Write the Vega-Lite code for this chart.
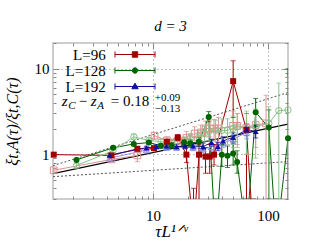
{
  "$schema": "https://vega.github.io/schema/vega-lite/v6.json",
  "autosize": "none",
  "width": 235,
  "height": 156,
  "padding": {"left": 53, "top": 43, "right": 27, "bottom": 47},
  "background": "white",
  "config": {"view": {"stroke": "#bdbdbd", "strokeWidth": 1.5}},
  "title": {"text": "d = 3", "font": "Liberation Serif", "fontSize": 15, "fontStyle": "italic", "fontWeight": "normal", "color": "#000", "anchor": "middle", "baseline": "alphabetic", "offset": -3},
  "datasets": {
    "pts": [
      {"s": "L=96", "x": 1.37, "y": 0.99, "lo": 0.97, "hi": 1.01},
      {"s": "L=96", "x": 4.35, "y": 0.97, "lo": 0.93, "hi": 1.01},
      {"s": "L=96", "x": 7.3, "y": 1.16, "lo": 1.1, "hi": 1.22},
      {"s": "L=96", "x": 10.2, "y": 1.18, "lo": 1.13, "hi": 1.23},
      {"s": "L=96", "x": 13.2, "y": 1.4, "lo": 1.3, "hi": 1.5},
      {"s": "L=96", "x": 16.4, "y": 1.57, "lo": 1.45, "hi": 1.7},
      {"s": "L=96", "x": 19.5, "y": 0.99, "lo": 0.8, "hi": 1.25},
      {"s": "L=96", "x": 22.5, "y": 0.12, "lo": 0.05, "hi": 0.4},
      {"s": "L=96", "x": 25.1, "y": 0.99, "lo": 0.2, "hi": 1.3},
      {"s": "L=96", "x": 28.6, "y": 0.94, "lo": 0.6, "hi": 1.2},
      {"s": "L=96", "x": 31.1, "y": 0.94, "lo": 0.6, "hi": 1.3},
      {"s": "L=96", "x": 33.9, "y": 0.99, "lo": 0.75, "hi": 1.3},
      {"s": "L=96", "x": 49.7, "y": 7.17, "lo": 2.7, "hi": 12.4},
      {"s": "L=96", "x": 64.9, "y": 1.93, "lo": 0.2, "hi": 3.0},
      {"s": "L=96", "x": 75, "y": 0.1, "lo": 0.05, "hi": 0.3},
      {"s": "o96", "x": 1.37, "y": 0.65, "lo": 0.62, "hi": 0.68},
      {"s": "o96", "x": 4.35, "y": 0.87, "lo": 0.82, "hi": 0.92},
      {"s": "o96", "x": 7.3, "y": 0.97, "lo": 0.82, "hi": 1.07},
      {"s": "o96", "x": 10.3, "y": 1.65, "lo": 1.5, "hi": 1.8},
      {"s": "o96", "x": 13.2, "y": 1.45, "lo": 1.3, "hi": 1.6},
      {"s": "o96", "x": 16.4, "y": 1.45, "lo": 1.3, "hi": 1.62},
      {"s": "o96", "x": 19.5, "y": 1.55, "lo": 1.3, "hi": 1.85},
      {"s": "o96", "x": 23, "y": 1.75, "lo": 1.45, "hi": 2.1},
      {"s": "o96", "x": 26, "y": 1.8, "lo": 1.45, "hi": 2.2},
      {"s": "o96", "x": 28.6, "y": 2.0, "lo": 1.6, "hi": 2.45},
      {"s": "o96", "x": 31.1, "y": 2.0, "lo": 1.6, "hi": 2.5},
      {"s": "o96", "x": 33.9, "y": 2.0, "lo": 1.5, "hi": 2.55},
      {"s": "o96", "x": 37, "y": 2.0, "lo": 1.4, "hi": 2.7},
      {"s": "o96", "x": 49.7, "y": 2.15, "lo": 1.2, "hi": 3.2},
      {"s": "o96", "x": 54, "y": 2.15, "lo": 1.3, "hi": 3.0},
      {"s": "o96", "x": 64.9, "y": 2.05, "lo": 1.0, "hi": 3.0},
      {"s": "o96", "x": 78, "y": 2.2, "lo": 1.2, "hi": 3.0},
      {"s": "o96", "x": 96, "y": 2.3, "lo": 0.1, "hi": 4.9},
      {"s": "L=128", "x": 2.16, "y": 0.86, "lo": 0.82, "hi": 0.9},
      {"s": "L=128", "x": 4.49, "y": 1.19, "lo": 1.15, "hi": 1.23},
      {"s": "L=128", "x": 6.8, "y": 1.32, "lo": 1.26, "hi": 1.38},
      {"s": "L=128", "x": 9.2, "y": 1.37, "lo": 1.3, "hi": 1.44},
      {"s": "L=128", "x": 11.7, "y": 1.26, "lo": 1.18, "hi": 1.34},
      {"s": "L=128", "x": 14.5, "y": 1.27, "lo": 1.18, "hi": 1.37},
      {"s": "L=128", "x": 18.6, "y": 1.37, "lo": 1.26, "hi": 1.48},
      {"s": "L=128", "x": 21.1, "y": 1.35, "lo": 1.22, "hi": 1.48},
      {"s": "L=128", "x": 25, "y": 1.4, "lo": 1.25, "hi": 1.56},
      {"s": "L=128", "x": 30.5, "y": 2.72, "lo": 2.4, "hi": 3.16},
      {"s": "L=128", "x": 35, "y": 0.1, "lo": 0.05, "hi": 0.3},
      {"s": "L=128", "x": 39.6, "y": 0.99, "lo": 0.72, "hi": 1.3},
      {"s": "L=128", "x": 44.4, "y": 0.96, "lo": 0.7, "hi": 1.25},
      {"s": "L=128", "x": 49.7, "y": 1.02, "lo": 0.75, "hi": 1.35},
      {"s": "L=128", "x": 53.8, "y": 0.81, "lo": 0.6, "hi": 1.1},
      {"s": "L=128", "x": 64.9, "y": 0.12, "lo": 0.05, "hi": 0.3},
      {"s": "L=128", "x": 78, "y": 3.1, "lo": 2.1, "hi": 4.5},
      {"s": "L=128", "x": 101.5, "y": 2.05, "lo": 0.3, "hi": 3.3},
      {"s": "L=128", "x": 118, "y": 0.1, "lo": 0.05, "hi": 0.3},
      {"s": "L=128", "x": 149, "y": 1.54, "lo": 0.1, "hi": 10},
      {"s": "o128", "x": 2.16, "y": 0.74, "lo": 0.7, "hi": 0.78},
      {"s": "o128", "x": 4.49, "y": 1.1, "lo": 1.05, "hi": 1.15},
      {"s": "o128", "x": 6.8, "y": 1.6, "lo": 1.5, "hi": 1.72},
      {"s": "o128", "x": 9.2, "y": 1.45, "lo": 1.36, "hi": 1.55},
      {"s": "o128", "x": 11.7, "y": 1.4, "lo": 1.3, "hi": 1.5},
      {"s": "o128", "x": 14.5, "y": 1.38, "lo": 1.27, "hi": 1.5},
      {"s": "o128", "x": 18.6, "y": 1.45, "lo": 1.3, "hi": 1.6},
      {"s": "o128", "x": 21.1, "y": 1.55, "lo": 1.35, "hi": 1.75},
      {"s": "o128", "x": 25, "y": 1.6, "lo": 1.35, "hi": 1.9},
      {"s": "o128", "x": 28, "y": 1.75, "lo": 1.4, "hi": 2.1},
      {"s": "o128", "x": 30.5, "y": 1.85, "lo": 1.45, "hi": 2.3},
      {"s": "o128", "x": 35, "y": 1.9, "lo": 1.4, "hi": 2.5},
      {"s": "o128", "x": 39.6, "y": 1.9, "lo": 1.3, "hi": 2.6},
      {"s": "o128", "x": 44.4, "y": 1.9, "lo": 1.3, "hi": 2.6},
      {"s": "o128", "x": 49.7, "y": 2.0, "lo": 1.3, "hi": 2.8},
      {"s": "o128", "x": 54, "y": 2.1, "lo": 1.2, "hi": 3.0},
      {"s": "o128", "x": 64.9, "y": 2.0, "lo": 1.0, "hi": 3.2},
      {"s": "o128", "x": 78, "y": 2.1, "lo": 0.9, "hi": 3.4},
      {"s": "o128", "x": 101.5, "y": 2.3, "lo": 0.1, "hi": 3.6},
      {"s": "o128", "x": 124, "y": 3.24, "lo": 0.1, "hi": 6.8},
      {"s": "o128", "x": 149, "y": 3.3, "lo": 0.1, "hi": 8},
      {"s": "L=192", "x": 4.2, "y": 0.98, "lo": 0.94, "hi": 1.02},
      {"s": "L=192", "x": 8.76, "y": 1.19, "lo": 1.14, "hi": 1.24},
      {"s": "L=192", "x": 10.7, "y": 1.23, "lo": 1.17, "hi": 1.29},
      {"s": "L=192", "x": 13.1, "y": 1.25, "lo": 1.18, "hi": 1.32},
      {"s": "L=192", "x": 16, "y": 1.23, "lo": 1.15, "hi": 1.31},
      {"s": "L=192", "x": 19, "y": 1.25, "lo": 1.16, "hi": 1.34},
      {"s": "L=192", "x": 22.3, "y": 1.25, "lo": 1.15, "hi": 1.35},
      {"s": "L=192", "x": 27.2, "y": 1.23, "lo": 1.12, "hi": 1.35},
      {"s": "L=192", "x": 32.2, "y": 1.37, "lo": 1.24, "hi": 1.5},
      {"s": "L=192", "x": 36.7, "y": 1.23, "lo": 1.1, "hi": 1.37},
      {"s": "L=192", "x": 40.6, "y": 1.43, "lo": 1.28, "hi": 1.6},
      {"s": "L=192", "x": 49.7, "y": 1.58, "lo": 1.4, "hi": 1.78},
      {"s": "L=192", "x": 64.9, "y": 1.93, "lo": 1.65, "hi": 2.25},
      {"s": "L=192", "x": 78, "y": 1.85, "lo": 1.55, "hi": 2.2},
      {"s": "o192", "x": 4.2, "y": 0.9, "lo": 0.86, "hi": 0.94},
      {"s": "o192", "x": 8.76, "y": 1.12, "lo": 1.07, "hi": 1.17},
      {"s": "o192", "x": 13.1, "y": 1.2, "lo": 1.13, "hi": 1.27},
      {"s": "o192", "x": 16, "y": 1.2, "lo": 1.12, "hi": 1.28},
      {"s": "o192", "x": 22.3, "y": 1.2, "lo": 1.1, "hi": 1.3},
      {"s": "o192", "x": 27.2, "y": 1.15, "lo": 1.04, "hi": 1.27},
      {"s": "o192", "x": 32.2, "y": 1.22, "lo": 1.1, "hi": 1.35},
      {"s": "o192", "x": 40.6, "y": 1.35, "lo": 1.2, "hi": 1.52},
      {"s": "o192", "x": 49.7, "y": 1.5, "lo": 1.32, "hi": 1.7},
      {"s": "o192", "x": 64.9, "y": 1.8, "lo": 1.52, "hi": 2.1}
    ],
    "fits": [
      {"f": "c", "x": 1.35, "y": 0.593},
      {"f": "c", "x": 149, "y": 2.25},
      {"f": "u", "x": 1.35, "y": 0.736},
      {"f": "u", "x": 149, "y": 5.27},
      {"f": "l", "x": 1.35, "y": 0.547},
      {"f": "l", "x": 149, "y": 0.82}
    ]
  },
  "resolve": {"axis": {"x": "independent", "y": "independent"}},
  "layer": [
    {
      "data": {"name": "fits"},
      "transform": [{"filter": "datum.f != 'c'"}],
      "mark": {"type": "line", "color": "#555", "strokeWidth": 1, "strokeDash": [2, 2], "clip": true},
      "encoding": {
        "x": {"field": "x", "type": "quantitative",
          "scale": {"type": "log", "domain": [1.35, 149], "nice": false},
          "axis": {"orient": "bottom", "values": [2,3,4,5,6,7,8,9,10,20,30,40,50,60,70,80,90,100],
            "format": "d", "labelExpr": "(datum.value==10||datum.value==100)?datum.label:''",
            "labelFont": "Liberation Serif", "labelFontSize": 15, "labelColor": "#000", "labelPadding": 15,
            "tickColor": "#888", "tickSize": {"condition": {"test": "datum.value==10||datum.value==100", "value": -6}, "value": -3},
            "domain": false, "grid": true, "gridDash": [1, 3], "gridColor": "#888",
            "gridOpacity": {"condition": {"test": "datum.value==10||datum.value==100", "value": 1}, "value": 0},
            "title": "τL¹ᐟᵛ", "titleFont": "Liberation Serif", "titleFontSize": 17, "titleFontStyle": "italic", "titleFontWeight": "normal", "titleColor": "#000",
            "titleX": 118, "titleY": 37, "titleBaseline": "alphabetic", "titleAnchor": "middle"}},
        "y": {"field": "y", "type": "quantitative",
          "scale": {"type": "log", "domain": [0.3, 20], "nice": false},
          "axis": {"orient": "left", "values": [0.3,0.4,0.5,0.6,0.7,0.8,0.9,1,2,3,4,5,6,7,8,9,10,20],
            "format": "d", "labelExpr": "(datum.value==1||datum.value==10)?datum.label:''",
            "labelFont": "Liberation Serif", "labelFontSize": 15, "labelColor": "#000", "labelPadding": 10,
            "tickColor": "#888", "tickSize": {"condition": {"test": "datum.value==1||datum.value==10", "value": -6}, "value": -3},
            "domain": false, "grid": true, "gridDash": [1, 3], "gridColor": "#888",
            "gridOpacity": {"condition": {"test": "datum.value==1||datum.value==10", "value": 1}, "value": 0},
            "title": "ξt,A(τ)/ξt,C(τ)", "titleFont": "Liberation Serif", "titleFontSize": 16, "titleFontStyle": "italic", "titleFontWeight": "normal", "titleColor": "#000",
            "titleX": -41, "titleY": 78, "titleAngle": -90, "titleBaseline": "middle", "titleAlign": "center"}},
        "detail": {"field": "f"}
      }
    },
    {
      "data": {"name": "fits"},
      "transform": [{"filter": "datum.f == 'c'"}],
      "mark": {"type": "line", "color": "#000", "strokeWidth": 1.3, "clip": true},
      "encoding": {
        "x": {"field": "x", "type": "quantitative",
          "axis": {"orient": "top", "values": [2,3,4,5,6,7,8,9,10,20,30,40,50,60,70,80,90,100], "labels": false, "domain": false, "grid": false, "title": null,
            "tickColor": "#888", "tickSize": {"condition": {"test": "datum.value==10||datum.value==100", "value": -6}, "value": -3}}},
        "y": {"field": "y", "type": "quantitative",
          "axis": {"orient": "right", "values": [0.3,0.4,0.5,0.6,0.7,0.8,0.9,1,2,3,4,5,6,7,8,9,10,20], "labels": false, "domain": false, "grid": false, "title": null,
            "tickColor": "#888", "tickSize": {"condition": {"test": "datum.value==1||datum.value==10", "value": -6}, "value": -3}}}
      }
    },
    {
      "data": {"name": "pts"},
      "mark": {"type": "line", "strokeWidth": 1, "clip": true},
      "encoding": {
        "x": {"field": "x", "type": "quantitative", "axis": null},
        "y": {"field": "y", "type": "quantitative", "axis": null},
        "order": {"field": "x", "type": "quantitative"},
        "color": {"field": "s", "type": "nominal",
          "scale": {"domain": ["o96", "o128", "o192", "L=96", "L=128", "L=192"], "range": ["#dc9090", "#88c488", "#9090e6", "#a00000", "#006400", "#1010a0"]},
          "legend": {"orient": "none", "legendX": 4, "legendY": 3.5, "values": ["L=96", "L=128", "L=192"], "title": null,
            "symbolSize": 225, "rowPadding": 0, "padding": 0, "symbolOffset": 70,
            "labelFont": "Liberation Serif", "labelFontSize": 15, "labelColor": "#000", "labelAlign": "right", "labelOffset": -37.3, "labelBaseline": "middle",
            "symbolType": {"expr": "datum.value==='L=96' ? 'M-2.667,0H2.667M-2.667,-0.4V0.4M2.667,-0.4V0.4M-0.36,-0.36H0.36V0.36H-0.36Z' : datum.value==='L=128' ? 'M-2.667,0H2.667M-2.667,-0.4V0.4M2.667,-0.4V0.4M0.36,0A0.36,0.36 0 1,1 -0.36,0A0.36,0.36 0 1,1 0.36,0Z' : 'M-2.667,0H2.667M-2.667,-0.4V0.4M2.667,-0.4V0.4M0,-0.45L0.42,0.3H-0.42Z'"},
            "symbolStrokeColor": {"expr": "scale('color', datum.value)"},
            "symbolFillColor": {"expr": "scale('color', datum.value)"},
            "symbolStrokeWidth": 1,
            "symbolOpacity": 1}}
      }
    },
    {
      "data": {"name": "pts"},
      "mark": {"type": "rule", "strokeWidth": 1, "clip": true},
      "encoding": {
        "x": {"field": "x", "type": "quantitative", "axis": null},
        "y": {"field": "lo", "type": "quantitative", "axis": null},
        "y2": {"field": "hi"},
        "color": {"field": "s", "type": "nominal", "legend": null}
      }
    },
    {
      "data": {"name": "pts"},
      "mark": {"type": "tick", "orient": "horizontal", "size": 5, "thickness": 1, "clip": true},
      "encoding": {
        "x": {"field": "x", "type": "quantitative", "axis": null},
        "y": {"field": "lo", "type": "quantitative", "axis": null},
        "color": {"field": "s", "type": "nominal", "legend": null}
      }
    },
    {
      "data": {"name": "pts"},
      "mark": {"type": "tick", "orient": "horizontal", "size": 5, "thickness": 1, "clip": true},
      "encoding": {
        "x": {"field": "x", "type": "quantitative", "axis": null},
        "y": {"field": "hi", "type": "quantitative", "axis": null},
        "color": {"field": "s", "type": "nominal", "legend": null}
      }
    },
    {
      "data": {"name": "pts"},
      "transform": [{"filter": "datum.s=='o96' && datum.y >= 0.3"}],
      "mark": {"type": "point", "shape": "square", "filled": false, "strokeWidth": 1, "size": 45, "opacity": 1},
      "encoding": {
        "x": {"field": "x", "type": "quantitative", "axis": null},
        "y": {"field": "y", "type": "quantitative", "axis": null},
        "color": {"field": "s", "type": "nominal", "legend": null}
      }
    },
    {
      "data": {"name": "pts"},
      "transform": [{"filter": "datum.s=='o128' && datum.y >= 0.3"}],
      "mark": {"type": "point", "shape": "circle", "filled": false, "strokeWidth": 1, "size": 40, "opacity": 1},
      "encoding": {
        "x": {"field": "x", "type": "quantitative", "axis": null},
        "y": {"field": "y", "type": "quantitative", "axis": null},
        "color": {"field": "s", "type": "nominal", "legend": null}
      }
    },
    {
      "data": {"name": "pts"},
      "transform": [{"filter": "datum.s=='o192' && datum.y >= 0.3"}],
      "mark": {"type": "point", "shape": "triangle-up", "filled": false, "strokeWidth": 1, "size": 40, "opacity": 1},
      "encoding": {
        "x": {"field": "x", "type": "quantitative", "axis": null},
        "y": {"field": "y", "type": "quantitative", "axis": null},
        "color": {"field": "s", "type": "nominal", "legend": null}
      }
    },
    {
      "data": {"name": "pts"},
      "transform": [{"filter": "datum.s=='L=96' && datum.y >= 0.3"}],
      "mark": {"type": "point", "shape": "square", "filled": true, "size": 36, "opacity": 1},
      "encoding": {
        "x": {"field": "x", "type": "quantitative", "axis": null},
        "y": {"field": "y", "type": "quantitative", "axis": null},
        "color": {"field": "s", "type": "nominal", "legend": null}
      }
    },
    {
      "data": {"name": "pts"},
      "transform": [{"filter": "datum.s=='L=128' && datum.y >= 0.3"}],
      "mark": {"type": "point", "shape": "circle", "filled": true, "size": 36, "opacity": 1},
      "encoding": {
        "x": {"field": "x", "type": "quantitative", "axis": null},
        "y": {"field": "y", "type": "quantitative", "axis": null},
        "color": {"field": "s", "type": "nominal", "legend": null}
      }
    },
    {
      "data": {"name": "pts"},
      "transform": [{"filter": "datum.s=='L=192' && datum.y >= 0.3"}],
      "mark": {"type": "point", "shape": "triangle-up", "filled": true, "size": 36, "opacity": 1},
      "encoding": {
        "x": {"field": "x", "type": "quantitative", "axis": null},
        "y": {"field": "y", "type": "quantitative", "axis": null},
        "color": {"field": "s", "type": "nominal", "legend": null}
      }
    },
    {
      "data": {"values": [{"t": "z"}]},
      "mark": {"type": "text", "font": "Liberation Serif", "fontSize": 15, "fontStyle": "italic", "align": "left", "baseline": "alphabetic", "color": "#000"},
      "encoding": {"x": {"datum": 1.607, "type": "quantitative", "axis": null}, "y": {"datum": 3.68, "type": "quantitative", "axis": null}, "text": {"field": "t"}}
    },
    {
      "data": {"values": [{"t": "C"}]},
      "mark": {"type": "text", "font": "Liberation Serif", "fontSize": 11, "fontStyle": "italic", "align": "left", "baseline": "alphabetic", "color": "#000", "dx": 6.5, "dy": 3},
      "encoding": {"x": {"datum": 1.607, "type": "quantitative", "axis": null}, "y": {"datum": 3.68, "type": "quantitative", "axis": null}, "text": {"field": "t"}}
    },
    {
      "data": {"values": [{"t": "−"}]},
      "mark": {"type": "text", "font": "Liberation Serif", "fontSize": 15, "align": "left", "baseline": "alphabetic", "color": "#000", "dx": 17},
      "encoding": {"x": {"datum": 1.607, "type": "quantitative", "axis": null}, "y": {"datum": 3.68, "type": "quantitative", "axis": null}, "text": {"field": "t"}}
    },
    {
      "data": {"values": [{"t": "z"}]},
      "mark": {"type": "text", "font": "Liberation Serif", "fontSize": 15, "fontStyle": "italic", "align": "left", "baseline": "alphabetic", "color": "#000", "dx": 29},
      "encoding": {"x": {"datum": 1.607, "type": "quantitative", "axis": null}, "y": {"datum": 3.68, "type": "quantitative", "axis": null}, "text": {"field": "t"}}
    },
    {
      "data": {"values": [{"t": "A"}]},
      "mark": {"type": "text", "font": "Liberation Serif", "fontSize": 11, "fontStyle": "italic", "align": "left", "baseline": "alphabetic", "color": "#000", "dx": 35.5, "dy": 3},
      "encoding": {"x": {"datum": 1.607, "type": "quantitative", "axis": null}, "y": {"datum": 3.68, "type": "quantitative", "axis": null}, "text": {"field": "t"}}
    },
    {
      "data": {"values": [{"t": "= 0.18"}]},
      "mark": {"type": "text", "font": "Liberation Serif", "fontSize": 15, "align": "left", "baseline": "alphabetic", "color": "#000", "dx": 49},
      "encoding": {"x": {"datum": 1.607, "type": "quantitative", "axis": null}, "y": {"datum": 3.68, "type": "quantitative", "axis": null}, "text": {"field": "t"}}
    },
    {
      "data": {"values": [{"t": "+0.09"}]},
      "mark": {"type": "text", "font": "Liberation Serif", "fontSize": 11, "align": "left", "baseline": "alphabetic", "color": "#000", "dx": 93, "dy": -5},
      "encoding": {"x": {"datum": 1.607, "type": "quantitative", "axis": null}, "y": {"datum": 3.68, "type": "quantitative", "axis": null}, "text": {"field": "t"}}
    },
    {
      "data": {"values": [{"t": "−0.13"}]},
      "mark": {"type": "text", "font": "Liberation Serif", "fontSize": 11, "align": "left", "baseline": "alphabetic", "color": "#000", "dx": 93, "dy": 6},
      "encoding": {"x": {"datum": 1.607, "type": "quantitative", "axis": null}, "y": {"datum": 3.68, "type": "quantitative", "axis": null}, "text": {"field": "t"}}
    }
  ]
}
